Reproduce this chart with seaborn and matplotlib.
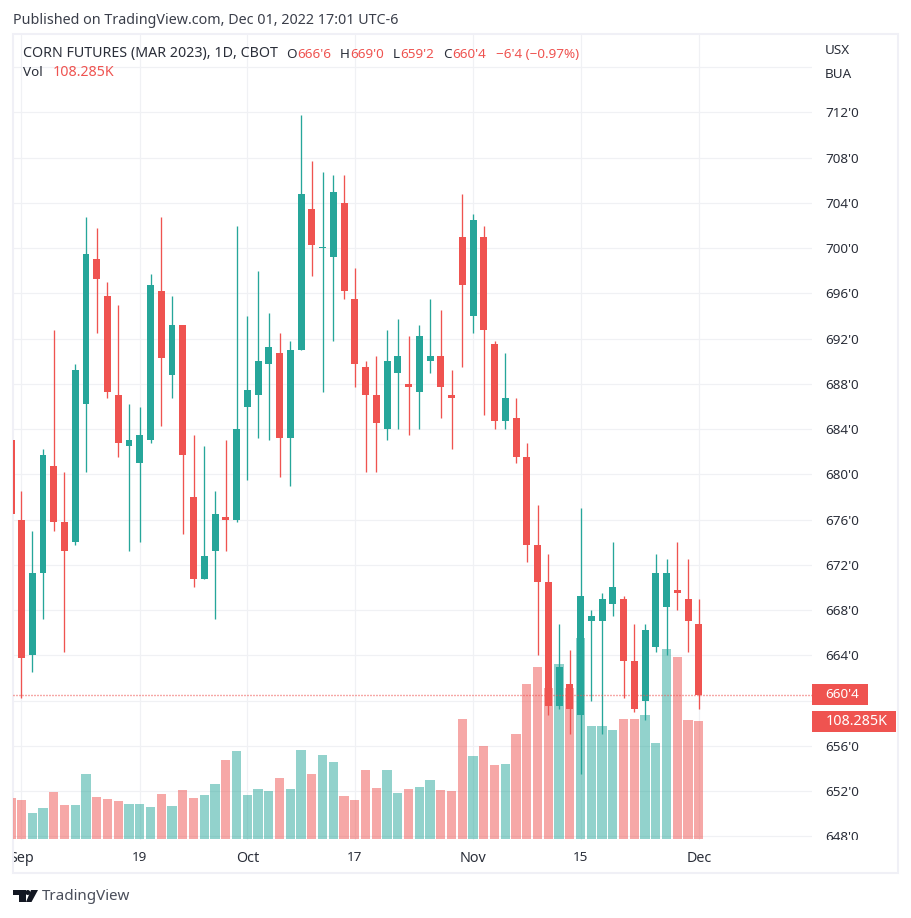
import numpy as np
import pandas as pd
import matplotlib
matplotlib.use('Agg')
import matplotlib.pyplot as plt
from matplotlib.patches import Rectangle, Polygon, Circle
from matplotlib.transforms import Bbox, IdentityTransform
import seaborn as sns

# Daily candles, first one is the cut off bar left of Sep 1
opens = [683.0, 676.0, 664.0, 671.25, 680.75, 675.75, 674.0, 686.25, 699.0, 695.75, 687.0, 682.5, 681.0, 683.0,
         696.25, 688.75, 693.25, 678.0, 670.75, 673.25, 676.25, 676.0, 686.0, 687.0, 689.75, 690.75, 683.25, 691.0,
         703.5, 700.0, 699.25, 704.0, 695.5, 689.5, 687.0, 684.0, 689.0, 688.0, 687.25, 690.0, 690.5, 687.0, 701.0,
         694.0, 701.0, 691.5, 684.75, 685.0, 681.5, 673.75, 670.5, 659.5, 661.5, 658.75, 667.0, 667.0, 668.5, 669.0,
         663.5, 660.0, 664.75, 668.25, 669.75, 669.0, 666.75]
highs = [683.0, 678.5, 675.0, 682.25, 692.75, 680.25, 689.75, 702.75, 701.75, 697.0, 695.0, 686.25, 686.0, 697.75,
         702.75, 695.75, 693.25, 683.5, 682.5, 678.5, 683.0, 702.0, 694.0, 698.0, 694.25, 692.5, 691.75, 711.75,
         707.75, 706.75, 706.5, 706.5, 698.25, 690.0, 690.5, 692.75, 693.75, 692.25, 693.25, 695.5, 694.5, 689.25,
         704.75, 703.0, 702.0, 691.75, 690.75, 686.75, 682.75, 677.25, 673.0, 666.75, 664.5, 677.0, 668.0, 669.5,
         674.0, 669.25, 666.75, 666.75, 673.0, 672.5, 674.0, 672.5, 669.0]
lows = [676.5, 660.25, 662.5, 667.25, 675.0, 664.25, 673.75, 680.25, 692.5, 686.75, 681.5, 673.25, 674.0, 682.75,
        684.25, 686.75, 674.75, 670.0, 670.75, 667.25, 673.25, 675.75, 679.5, 683.25, 683.0, 679.75, 679.0, 691.0,
        697.5, 687.25, 691.75, 695.5, 687.75, 680.25, 680.25, 683.0, 684.0, 683.5, 684.0, 689.0, 685.0, 682.25,
        689.5, 692.5, 685.25, 684.0, 684.0, 681.0, 672.25, 664.0, 658.75, 659.25, 657.0, 653.5, 660.0, 657.0, 667.5,
        660.25, 659.0, 658.25, 664.25, 664.0, 668.0, 664.25, 659.25]
closes = [676.5, 663.75, 671.25, 681.75, 675.75, 673.25, 689.25, 699.5, 697.25, 687.25, 682.75, 683.0, 683.5, 696.75,
          690.25, 693.25, 681.75, 670.75, 672.75, 676.5, 676.0, 684.0, 687.5, 690.0, 691.25, 683.25, 691.0, 704.75,
          700.25, 700.0, 705.0, 696.25, 689.75, 687.0, 684.5, 690.0, 690.5, 687.75, 692.25, 690.5, 687.75, 686.75,
          696.75, 702.5, 692.75, 684.75, 686.75, 681.5, 673.75, 670.5, 659.5, 663.0, 659.25, 669.25, 667.5, 669.0,
          670.0, 663.5, 659.25, 666.25, 671.25, 671.25, 669.5, 667.0, 660.5]
# Volume in thousands
volumes = [37.6, 35.8, 23.9, 28.4, 43.1, 31.2, 31.2, 59.7, 38.5, 36.7, 34.9, 32.1, 32.1, 29.4, 41.3, 30.3, 45.0, 37.6,
           40.4, 50.5, 72.5, 80.8, 40.4, 45.9, 44.0, 56.0, 45.9, 81.7, 59.7, 77.1, 70.7, 39.5, 35.8, 63.3, 46.8, 63.3,
           42.2, 45.9, 47.7, 54.1, 45.0, 44.0, 110.1, 76.2, 85.3, 67.9, 68.8, 96.4, 142.2, 157.8, 138.6, 160.6, 138.6,
           184.5, 103.7, 103.7, 100.0, 110.1, 110.1, 113.8, 88.1, 174.4, 167.0, 109.2, 108.285]

date_ticks = [0, 11, 21, 31, 42, 52, 63]
date_labels = ['Sep', '19', 'Oct', '17', 'Nov', '15', 'Dec']
month_labels = ['Sep', 'Oct', 'Nov', 'Dec']
price_ticks = [716, 712, 708, 704, 700, 696, 692, 688, 684, 680, 676, 672, 668, 664, 660, 656, 652, 648]
price_labels = ['', "712'0", "708'0", "704'0", "700'0", "696'0", "692'0", "688'0", "684'0", "680'0", "676'0", "672'0",
                "668'0", "664'0", '', "656'0", "652'0", "648'0"]
last_close = 660.5

UP = '#26a69a'
DOWN = '#ef5350'
TEXT = '#131722'
GRID = '#f0f1f4'
W, H = 912, 918

# -0.95 so the sliver of the first bar shows inside the pane
days = np.r_[-0.95, np.arange(0, 64)]
df = pd.DataFrame({'day': days, 'open': opens, 'high': highs, 'low': lows, 'close': closes, 'vol': volumes})
df['side'] = np.where(df['close'] >= df['open'], 'up', 'down')

sns.set_theme(style='white')
plt.rcParams['font.family'] = ['Noto Sans', 'DejaVu Sans']
font_size = 9.7

fig = plt.figure(figsize=(W / 100, H / 100), dpi=100, facecolor='white')


def fx(x):
    return x / W


def fy(y):
    return 1 - y / H


def px_box(x0, y0, x1, y1, **kw):
    fig.add_artist(Rectangle((fx(x0), fy(y1)), (x1 - x0) / W, (y1 - y0) / H, transform=fig.transFigure, **kw))


def px_text(x, y, s, **kw):
    kw.setdefault('fontsize', font_size)
    kw.setdefault('color', TEXT)
    fig.text(fx(x), fy(y), s, va='center', **kw)


# pane from pixel 13 to 812, 35 to 840
ax = fig.add_axes([fx(13), fy(840), fx(812) - fx(13), fy(35) - fy(840)])
xlim = (-0.79, 73.53)
ylim = (647.67, 718.85)

# volume behind the candles, above the grid
vol_ax = ax.twinx()
sns.barplot(data=df, x='day', y='vol', hue='side', palette={'up': UP, 'down': DOWN}, native_scale=True, dodge=False,
            width=0.9, alpha=0.5, saturation=1, linewidth=0, legend=False, ax=vol_ax)
vol_ax.set_ylim(-0.9, 737.8)
vol_ax.set_xlim(xlim)
vol_ax.axis('off')

# candles
candle_ax = ax.twinx()
for side, color in [('up', UP), ('down', DOWN)]:
    part = df[df['side'] == side]
    candle_ax.vlines(part['day'], part['low'], part['high'], color=color, lw=0.95)
    height = (part['close'] - part['open']).abs().clip(lower=0.12)
    candle_ax.bar(part['day'], height, bottom=part[['open', 'close']].min(axis=1), width=0.65, color=color, linewidth=0)
candle_ax.axhline(last_close, color=DOWN, lw=1, ls=(0, (0.72, 1.44)))
candle_ax.set_xlim(xlim)
candle_ax.set_ylim(ylim)
candle_ax.axis('off')

ax.set_zorder(0)
vol_ax.set_zorder(1)
candle_ax.set_zorder(2)

ax.set_xlim(xlim)
ax.set_ylim(ylim)
ax.yaxis.tick_right()
ax.set_yticks(price_ticks)
ax.set_yticklabels(price_labels, fontsize=font_size, color='#2a2e39', ha='left')
ax.set_xticks(date_ticks)
ax.set_xticklabels(date_labels, fontsize=font_size, color='#2a2e39')
ax.tick_params(axis='y', length=0, pad=9.4)
ax.tick_params(axis='x', length=0, pad=8)
ax.grid(True, color=GRID, lw=0.85)
sns.despine(ax=ax, left=True, bottom=True, right=True, top=True)

for lbl in ax.get_xticklabels():
    if lbl.get_text() in month_labels:
        lbl.set_fontweight('bold' if lbl.get_text() != 'Nov' else 'medium')
        lbl.set_fontsize(10.3)

# Sep is cut by the pane edge, 648'0 by the time axis
ax.get_xticklabels()[0].set_clip_box(Bbox([[14, 0], [W, H]]))
ax.get_xticklabels()[0].set_clip_on(True)
ax.get_yticklabels()[-1].set_clip_box(Bbox([[0, H - 840], [W, H]]))
ax.get_yticklabels()[-1].set_clip_on(True)

# frame around the chart
px_box(13, 34, 898, 873, fill=False, edgecolor='#f0f0f6', lw=1.45)

# header
px_text(13, 20, 'Published on TradingView.com, Dec 01, 2022 17:01 UTC-6', color='#3a3e4a', fontsize=10.3)
px_text(23, 54, 'CORN FUTURES (MAR 2023), 1D, CBOT', color='#2a2e39', fontsize=10.25)
for x, s in [(286.5, 'O'), (340, 'H'), (393, 'L'), (443.5, 'C')]:
    px_text(x, 54, s, color='#2a2e39')
for x, s in [(297, "666'6"), (350.6, "669'0"), (400, "659'2"), (452.5, "660'4"), (496, "−6'4 (−0.97%)")]:
    px_text(x, 54, s, color=DOWN)
px_text(23, 73, 'Vol', color='#2a2e39')
px_text(53, 73, '108.285K', color=DOWN, fontsize=10.2)

# price scale extras
px_text(825, 51, 'USX', color='#2a2e39')
px_text(825, 75, 'BUA', color='#2a2e39')
px_box(812, 684, 868, 705, color=DOWN, lw=0, zorder=5)
px_text(825, 694, "660'4", color='white', zorder=6)
px_box(812, 711, 896, 732, color=DOWN, lw=0, zorder=5)
px_text(825.5, 721.5, '108.285K', color='white', fontsize=10.3, zorder=6)

# logo and footer
for pts in [[(13, 890), (26, 890), (26, 902), (19, 902), (19, 895), (13, 895)],
            [(31, 890), (38, 890), (31.5, 902), (26, 902)]]:
    fig.add_artist(Polygon([(fx(a), fy(b)) for a, b in pts], closed=True, transform=fig.transFigure, color=TEXT, lw=0))
fig.add_artist(Circle((27.8, H - 892.5), 2.5, transform=IdentityTransform(), color=TEXT, lw=0))
px_text(42, 896, 'TradingView', color='#4a4e5a', fontsize=10.9)

fig.savefig('out.png', dpi=100)
